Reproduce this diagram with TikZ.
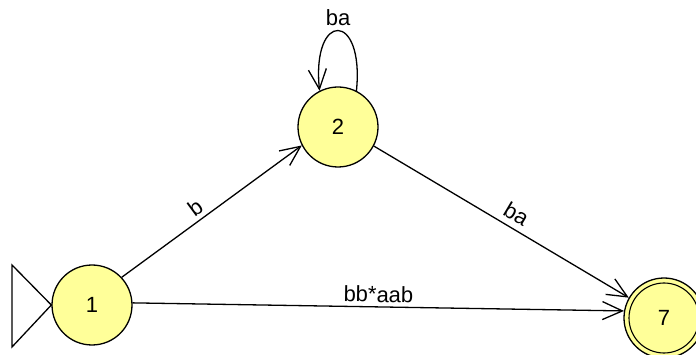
\documentclass[tikz,border=0pt]{standalone}
\usepackage{fontspec}
\setmainfont{Liberation Sans}
\usetikzlibrary{arrows.meta}
\definecolor{stfill}{RGB}{255,255,153}
\tikzset{
  state/.style={circle, draw=black, line width=1.3pt, fill=stfill, minimum size=80pt, inner sep=0pt, font=\fontsize{22}{24}\selectfont},
  edge/.style={draw=black, line width=1.3pt, -{Straight Barb[length=20pt,width=18pt,line width=1.3pt]}},
  lbl/.style={font=\fontsize{22}{24}\selectfont, inner sep=4pt}
}
\begin{document}
\begin{tikzpicture}[x=1pt,y=-1pt]
\useasboundingbox (0,0) rectangle (696,355);
\node[state] (n1) at (92,305) {1};
\node[state] (n2) at (338,127) {2};
\node[state] (n7) at (664,318) {7};
\node[circle, draw=black, line width=1.1pt, minimum size=70pt, inner sep=0pt] (n7in) at (n7) {};
% start triangle
\coordinate (s1) at (12,265);
\coordinate (s2) at (12,347);
\draw[line width=1.3pt, line join=miter] (s1) -- (n1.west) -- (s2) -- cycle;
% edges
\draw[edge] (n1.43) -- node[lbl, sloped, above, pos=0.45] {b} (n2.207);
\draw[edge] (n2.-28) -- node[lbl, sloped, above, pos=0.53, inner sep=6pt] {ba} (n7.150);
\draw[edge] (n1.3) -- node[lbl, sloped, above, pos=0.5] {bb*aab} (n7.170);
\draw[edge] (n2.63) .. controls +(8,-80) and +(-8,-80) .. node[lbl, above, inner sep=4pt] {ba} (n2.117);
\end{tikzpicture}
\end{document}
